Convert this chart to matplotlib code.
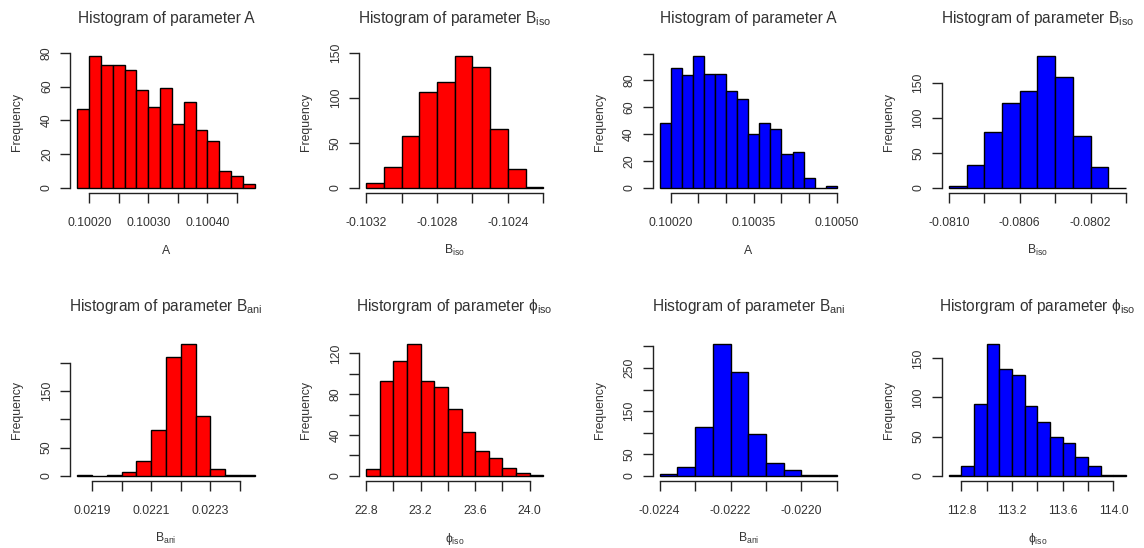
import numpy as np
import matplotlib.pyplot as plt

plt.rcParams['font.family'] = ['Liberation Sans', 'DejaVu Sans']
plt.rcParams['mathtext.fontset'] = 'custom'
plt.rcParams['mathtext.rm'] = 'Liberation Sans'
plt.rcParams['mathtext.it'] = 'Liberation Sans:italic'
plt.rcParams['mathtext.default'] = 'regular'

TXT = '#333333'

# ---------------- red chain ----------------
red_A_range = [0.10018, 0.10048]
red_A_counts = [47, 78, 73, 73, 70, 58, 48, 59, 38, 51, 34, 28, 10, 7, 2]
red_A_xticks = [0.10020, 0.10025, 0.10030, 0.10035, 0.10040, 0.10045]
red_A_xlabels = ['0.10020', '', '0.10030', '', '0.10040', '']
red_A_yticks = [0, 20, 40, 60, 80]
red_A_ylabels = ['0', '20', '40', '60', '80']

red_Biso_range = [-0.1032, -0.1022]
red_Biso_counts = [5, 23, 57, 106, 117, 146, 134, 65, 21, 1]
red_Biso_xticks = [-0.1032, -0.1030, -0.1028, -0.1026, -0.1024, -0.1022]
red_Biso_xlabels = ['-0.1032', '', '-0.1028', '', '-0.1024', '']
red_Biso_yticks = [0, 50, 100, 150]
red_Biso_ylabels = ['0', '50', '100', '150']

red_Bani_range = [0.02185, 0.02245]
red_Bani_counts = [1, 0, 1, 6, 26, 81, 211, 233, 105, 12, 1, 1]
red_Bani_xticks = [0.0219, 0.0220, 0.0221, 0.0222, 0.0223, 0.0224]
red_Bani_xlabels = ['0.0219', '', '0.0221', '', '0.0223', '']
red_Bani_yticks = [0, 50, 100, 150, 200]
red_Bani_ylabels = ['0', '50', '', '150', '']

red_phi_range = [22.8, 24.1]
red_phi_counts = [7, 93, 113, 129, 93, 87, 65, 43, 24, 17, 8, 3, 1]
red_phi_xticks = [22.8, 23.0, 23.2, 23.4, 23.6, 23.8, 24.0]
red_phi_xlabels = ['22.8', '', '23.2', '', '23.6', '', '24.0']
red_phi_yticks = [0, 20, 40, 60, 80, 100, 120]
red_phi_ylabels = ['0', '', '40', '', '80', '', '120']

# ---------------- blue chain ----------------
blue_A_range = [0.10018, 0.10050]
blue_A_counts = [48, 89, 84, 98, 85, 85, 72, 66, 40, 48, 44, 25, 27, 7, 0, 1]
blue_A_xticks = [0.10020, 0.10025, 0.10030, 0.10035, 0.10040, 0.10045, 0.10050]
blue_A_xlabels = ['0.10020', '', '', '0.10035', '', '', '0.10050']
blue_A_yticks = [0, 20, 40, 60, 80, 100]
blue_A_ylabels = ['0', '20', '40', '60', '80', '']

blue_Biso_range = [-0.0810, -0.0800]
blue_Biso_counts = [3, 33, 80, 121, 138, 188, 159, 74, 30, 0]
blue_Biso_xticks = [-0.0810, -0.0808, -0.0806, -0.0804, -0.0802, -0.0800]
blue_Biso_xlabels = ['-0.0810', '', '-0.0806', '', '-0.0802', '']
blue_Biso_yticks = [0, 50, 100, 150]
blue_Biso_ylabels = ['0', '50', '100', '150']

blue_Bani_range = [-0.0224, -0.0219]
blue_Bani_counts = [4, 20, 113, 305, 241, 97, 29, 13, 2, 2]
blue_Bani_xticks = [-0.0224, -0.0223, -0.0222, -0.0221, -0.0220, -0.0219]
blue_Bani_xlabels = ['-0.0224', '', '-0.0222', '', '-0.0220', '']
blue_Bani_yticks = [0, 50, 100, 150, 200, 250, 300]
blue_Bani_ylabels = ['0', '50', '', '150', '', '250', '']

blue_phi_range = [112.7, 114.1]
blue_phi_counts = [1, 13, 92, 168, 137, 129, 89, 69, 50, 42, 24, 12, 1, 1]
blue_phi_xticks = [112.8, 113.0, 113.2, 113.4, 113.6, 113.8, 114.0]
blue_phi_xlabels = ['112.8', '', '113.2', '', '113.6', '', '114.0']
blue_phi_yticks = [0, 50, 100, 150]
blue_phi_ylabels = ['0', '50', '100', '150']

t_A = 'Histogram of parameter A'
t_Biso = 'Histogram of parameter B$_{iso}$'
t_Bani = 'Histogram of parameter B$_{ani}$'
t_phi = 'Historgram of parameter $\\phi_{iso}$'

W, H = 1144, 548
lefts = [70.3, 359, 652.5, 941.7]
tops = [51, 339]
pw, ph = 191.5, 142

fig = plt.figure(figsize=(W / 100, H / 100), dpi=100)


def draw(col, row, title, xlab, rng, counts, color, xt, xl, yt, yl):
    ax = fig.add_axes([lefts[col] / W, 1 - (tops[row] + ph) / H, pw / W, ph / H])
    edges = np.linspace(rng[0], rng[1], len(counts) + 1)
    ax.bar(edges[:-1], counts, width=np.diff(edges), align='edge',
           color=color, edgecolor='black', linewidth=1.0)
    span = edges[-1] - edges[0]
    ax.set_xlim(edges[0] - 0.04 * span, edges[-1] + 0.04 * span)
    top = max(counts)
    ax.set_ylim(-0.04 * top, 1.04 * top)

    ax.spines[['top', 'right']].set_visible(False)
    for s in ['left', 'bottom']:
        ax.spines[s].set_color('#222222')
        ax.spines[s].set_linewidth(1.0)
    ax.spines['left'].set_bounds(yt[0], yt[-1])
    ax.spines['bottom'].set_bounds(xt[0], xt[-1])

    ax.set_xticks(xt)
    ax.set_xticklabels(xl)
    ax.set_yticks(yt)
    ax.set_yticklabels(yl)
    ax.tick_params(direction='out', length=7, width=1.0, color='#222222',
                   labelsize=8.8, labelcolor=TXT)
    ax.tick_params(axis='x', pad=10.5)
    ax.tick_params(axis='y', pad=5.5, labelrotation=90)
    for lbl in ax.get_yticklabels():
        lbl.set_va('center')

    ax.set_title(title, fontsize=11.2, color=TXT, pad=19.8)
    ax.set_xlabel(xlab, fontsize=8.8, color=TXT, va='baseline')
    ax.xaxis.set_label_coords(0.5, -61 / ph)
    ax.set_ylabel('Frequency', fontsize=8.8, color=TXT, va='center')
    ax.yaxis.set_label_coords(-53 / pw, 0.5)
    return ax


RED = '#ff0000'
BLUE = '#0000ff'

draw(0, 0, t_A, 'A', red_A_range, red_A_counts, RED,
     red_A_xticks, red_A_xlabels, red_A_yticks, red_A_ylabels)
draw(1, 0, t_Biso, 'B$_{iso}$', red_Biso_range, red_Biso_counts, RED,
     red_Biso_xticks, red_Biso_xlabels, red_Biso_yticks, red_Biso_ylabels)
draw(0, 1, t_Bani, 'B$_{ani}$', red_Bani_range, red_Bani_counts, RED,
     red_Bani_xticks, red_Bani_xlabels, red_Bani_yticks, red_Bani_ylabels)
draw(1, 1, t_phi, '$\\phi_{iso}$', red_phi_range, red_phi_counts, RED,
     red_phi_xticks, red_phi_xlabels, red_phi_yticks, red_phi_ylabels)

draw(2, 0, t_A, 'A', blue_A_range, blue_A_counts, BLUE,
     blue_A_xticks, blue_A_xlabels, blue_A_yticks, blue_A_ylabels)
draw(3, 0, t_Biso, 'B$_{iso}$', blue_Biso_range, blue_Biso_counts, BLUE,
     blue_Biso_xticks, blue_Biso_xlabels, blue_Biso_yticks, blue_Biso_ylabels)
draw(2, 1, t_Bani, 'B$_{ani}$', blue_Bani_range, blue_Bani_counts, BLUE,
     blue_Bani_xticks, blue_Bani_xlabels, blue_Bani_yticks, blue_Bani_ylabels)
draw(3, 1, t_phi, '$\\phi_{iso}$', blue_phi_range, blue_phi_counts, BLUE,
     blue_phi_xticks, blue_phi_xlabels, blue_phi_yticks, blue_phi_ylabels)

fig.savefig('out.png', dpi=100)
